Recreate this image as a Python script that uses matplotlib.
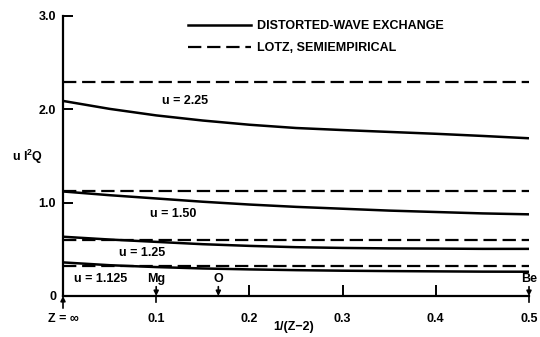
import matplotlib
matplotlib.use("Agg")
import matplotlib.pyplot as plt
from matplotlib.lines import Line2D

plt.rcParams['font.family'] = ['Liberation Sans', 'DejaVu Sans']
plt.rcParams['font.weight'] = 'bold'
plt.rcParams['mathtext.default'] = 'regular'

# data
x = [0.0, 0.05, 0.1, 0.15, 0.2, 0.25, 0.3, 0.35, 0.4, 0.45, 0.5]
dw_225 = [2.09, 2.005, 1.935, 1.88, 1.835, 1.80, 1.778, 1.758, 1.738, 1.715, 1.69]
dw_150 = [1.12, 1.08, 1.045, 1.01, 0.98, 0.955, 0.935, 0.915, 0.90, 0.885, 0.875]
dw_125 = [0.635, 0.605, 0.58, 0.555, 0.537, 0.523, 0.515, 0.51, 0.508, 0.505, 0.505]
dw_1125 = [0.36, 0.33, 0.31, 0.295, 0.285, 0.277, 0.271, 0.267, 0.264, 0.261, 0.26]
lotz = [2.29, 1.13, 0.605, 0.32]
curve_labels = ["u = 2.25", "u = 1.50", "u = 1.25", "u = 1.125"]
label_pos = [(0.131, 2.09), (0.118, 0.88), (0.085, 0.46), (0.04, 0.185)]
elements = ["Mg", "O", "Be"]
element_x = [0.1, 1/6, 0.5]
xticks = [0.0, 0.1, 0.2, 0.3, 0.4, 0.5]
xticklabels = ["Z = \u221e", "0.1", "0.2", "0.3", "0.4", "0.5"]
yticks = [0, 1.0, 2.0, 3.0]
yticklabels = ["0", "1.0", "2.0", "3.0"]

W, H = 540, 337
fig = plt.figure(figsize=(W/100, H/100), dpi=100)
ax = fig.add_axes([63/W, 1-296/H, (529-63)/W, (296-16)/H])

lw = 1.8
for dw, lz in zip([dw_225, dw_150, dw_125, dw_1125], lotz):
    ax.plot(x, dw, color='black', lw=lw, solid_capstyle='butt', solid_joinstyle='round')
    ax.plot([x[0], x[-1]], [lz, lz], color='black', lw=1.6, dashes=(6, 2.6))

for lab, (lx, ly) in zip(curve_labels, label_pos):
    ax.text(lx, ly, lab, fontsize=9, fontweight='bold', ha='center', va='center')

ax.set_xlim(0, 0.5)
ax.set_ylim(0, 3.0)
ax.spines['top'].set_visible(False)
ax.spines['right'].set_visible(False)
ax.spines['left'].set_linewidth(1.6)
ax.spines['bottom'].set_linewidth(1.6)
ax.set_xticks(xticks)
ax.set_xticklabels(xticklabels, fontsize=9, fontweight='bold')
ax.set_yticks(yticks)
ax.set_yticklabels(yticklabels, fontsize=9, fontweight='bold')
ax.tick_params(axis='y', direction='in', length=7, width=1.4, pad=5)
ax.tick_params(axis='x', direction='in', length=8, width=1.4, pad=12)
xt = ax.xaxis.get_major_ticks()
for i in (0, 1, 5):
    xt[i].tick1line.set_visible(False)

# element markers (arrows)
for el, ex in zip(elements, element_x):
    ax.text(ex, 0.12, el, fontsize=9, fontweight='bold', ha='center', va='bottom')
    ax.annotate('', xy=(ex, 0.0), xytext=(ex, 0.1),
                arrowprops=dict(arrowstyle='-|>', color='black', lw=1.2,
                                mutation_scale=7, shrinkA=0, shrinkB=0),
                annotation_clip=False)
    if el != "O":
        ax.plot([ex, ex], [0.0, -0.06], color='black', lw=1.2, clip_on=False)
ax.annotate('', xy=(0, 0.0), xytext=(0, -0.13),
            arrowprops=dict(arrowstyle='-|>', color='black', lw=1.2,
                            mutation_scale=7, shrinkA=0, shrinkB=0),
            annotation_clip=False)

fig.text(12/W, 1-157/H, 'u I$^2$Q', fontsize=9, fontweight='bold', ha='left', va='center')
fig.text(294/W, 1-327/H, '1/(Z\u22122)', fontsize=9, fontweight='bold', ha='center', va='center')

handles = [Line2D([], [], color='black', lw=lw),
           Line2D([], [], color='black', lw=1.6, dashes=(6, 2.6))]
ax.legend(handles, ["DISTORTED-WAVE EXCHANGE", "LOTZ, SEMIEMPIRICAL"],
          loc='upper left', bbox_to_anchor=(188/W, 1-20/H),
          bbox_transform=fig.transFigure, frameon=False,
          prop={'size': 9, 'weight': 'bold'},
          handlelength=5.0, handletextpad=0.55, labelspacing=0.8, borderpad=0,
          borderaxespad=0)

fig.savefig('out.png', dpi=100)
